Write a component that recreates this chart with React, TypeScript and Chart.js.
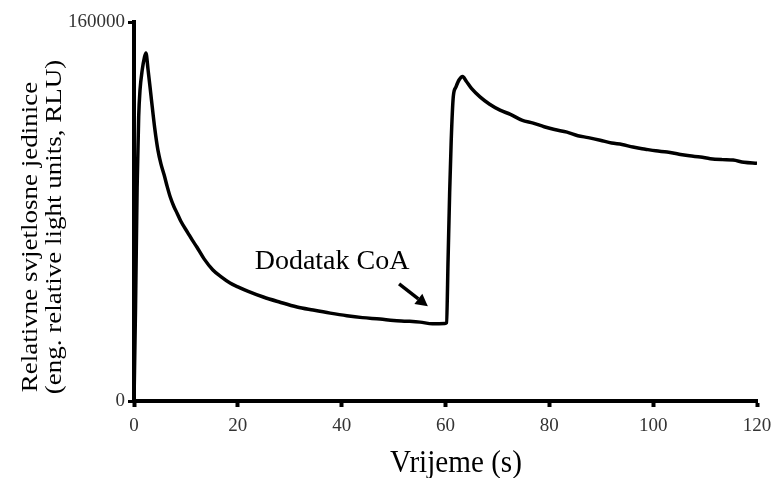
import React, { useEffect, useRef } from "react";
import { Chart, registerables } from "chart.js";

Chart.register(...registerables);

const timeSec: number[] = [
  0, 0.3, 0.6, 0.9, 1.15, 1.6, 2.0, 2.3, 2.7, 3.3, 4.0, 4.6, 5.2, 5.8, 6.4, 7.0, 7.7, 8.3, 9.0,
  10.4, 11.2, 12.1, 13.5, 15.2, 16.8, 18.5, 20, 22, 24.9, 28, 31.4, 34.5, 37.8, 41, 44, 47.4, 50,
  52.5, 55.1, 57.5, 59.9, 60.2, 60.5, 60.8, 61.1, 61.5, 62.0, 62.6, 63.3, 64.0, 65.0, 66.7, 68.5,
  70.5, 72.5, 74.7, 76.9, 79, 81, 83.4, 85.5, 87.5, 89.8, 92, 94, 96.1, 98.5, 100.5, 102.7, 105,
  107, 109.1, 111, 113.3, 115.4, 117.5, 120,
];

const rluValues: number[] = [
  0, 40000, 90000, 120000, 131000, 140000, 145000, 146900, 140000, 128400, 115000, 106000,
  100000, 95500, 90500, 86000, 82000, 79300, 76000, 70900, 68000, 65000, 60000, 55300, 52400,
  49800, 48200, 46300, 43900, 41800, 39700, 38400, 37100, 36000, 35200, 34600, 34000, 33700,
  33300, 32600, 32700, 33000, 60000, 88000, 110000, 128500, 132500, 135500, 137000, 135000,
  132000, 128300, 125300, 122800, 121000, 118600, 117300, 115800, 114600, 113500, 112000, 111200,
  110100, 108900, 108300, 107200, 106300, 105600, 105100, 104200, 103500, 103000, 102300, 101900,
  101700, 100800, 100400,
];

const xTickValues: number[] = [0, 20, 40, 60, 80, 100, 120];
const yTickValues: number[] = [0, 160000];

const xTitle = "Vrijeme (s)";
const yTitleLines: string[] = ["Relativne svjetlosne jedinice", "(eng. relative light units, RLU)"];
const annotationText = "Dodatak CoA";
const annotationTextAt = { x: 38.15, y: 55700 };
const arrowFrom = { x: 51.06, y: 49400 };
const arrowTo = { x: 56.6, y: 40000 };

const FONT = "'Liberation Serif', 'Times New Roman', serif";

const overlayPlugin = {
  id: "overlay",
  afterDraw(chart: any) {
    const ctx = chart.ctx as CanvasRenderingContext2D;
    const xs = chart.scales.x;
    const ys = chart.scales.y;
    ctx.save();
    ctx.fillStyle = "#000";
    ctx.strokeStyle = "#000";
    ctx.textAlign = "center";
    ctx.textBaseline = "alphabetic";

    // y title (two rotated lines)
    ctx.font = `27px ${FONT}`;
    const yLinePos = [
      { bx: 37, cy: 237 },
      { bx: 61, cy: 227 },
    ];
    yTitleLines.forEach((line, i) => {
      ctx.save();
      ctx.translate(yLinePos[i].bx, yLinePos[i].cy);
      ctx.rotate(-Math.PI / 2);
      ctx.scale(1, 0.88);
      ctx.fillText(line, 0, 0);
      ctx.restore();
    });

    // x title
    ctx.save();
    ctx.font = `31px ${FONT}`;
    ctx.translate(456, 472);
    ctx.scale(0.94, 1);
    ctx.fillText(xTitle, 0, 0);
    ctx.restore();

    // annotation text
    ctx.font = `28px ${FONT}`;
    ctx.fillText(
      annotationText,
      xs.getPixelForValue(annotationTextAt.x),
      ys.getPixelForValue(annotationTextAt.y)
    );

    // arrow
    const x1 = xs.getPixelForValue(arrowFrom.x);
    const y1 = ys.getPixelForValue(arrowFrom.y);
    const x2 = xs.getPixelForValue(arrowTo.x);
    const y2 = ys.getPixelForValue(arrowTo.y);
    const ang = Math.atan2(y2 - y1, x2 - x1);
    const headLen = 12;
    const headW = 6.5;
    const bx = x2 - headLen * Math.cos(ang);
    const by = y2 - headLen * Math.sin(ang);
    ctx.lineWidth = 3.5;
    ctx.beginPath();
    ctx.moveTo(x1, y1);
    ctx.lineTo(bx, by);
    ctx.stroke();
    ctx.beginPath();
    ctx.moveTo(x2, y2);
    ctx.lineTo(bx + headW * Math.sin(ang), by - headW * Math.cos(ang));
    ctx.lineTo(bx - headW * Math.sin(ang), by + headW * Math.cos(ang));
    ctx.closePath();
    ctx.fill();
    ctx.restore();
  },
};

export default function App() {
  const canvasRef = useRef<HTMLCanvasElement | null>(null);

  useEffect(() => {
    if (!canvasRef.current) return;
    const data = timeSec.map((t, i) => ({ x: t, y: rluValues[i] }));
    const chart = new Chart(canvasRef.current, {
      type: "line",
      data: {
        datasets: [
          {
            data,
            borderColor: "#000",
            borderWidth: 3.5,
            pointRadius: 0,
            cubicInterpolationMode: "monotone",
            fill: false,
          },
        ],
      },
      options: {
        animation: false,
        responsive: false,
        maintainAspectRatio: false,
        layout: { padding: { top: 22, right: 14, bottom: 0, left: 0 } },
        plugins: { legend: { display: false }, tooltip: { enabled: false } },
        scales: {
          x: {
            type: "linear",
            min: 0,
            max: 120,
            afterBuildTicks: (s: any) => {
              s.ticks = xTickValues.map((v) => ({ value: v }));
            },
            afterFit: (s: any) => {
              s.height = 77;
              s.paddingLeft = 0;
              s.paddingRight = 0;
            },
            border: { display: true, color: "#000", width: 4 },
            grid: { display: true, drawOnChartArea: false, tickLength: 6, tickWidth: 4, tickColor: "#000" },
            ticks: {
              color: "#333",
              font: { family: FONT, size: 19 },
              padding: 8,
              maxRotation: 0,
              callback: (v: any) => String(v),
            },
          },
          y: {
            type: "linear",
            min: 0,
            max: 160000,
            afterBuildTicks: (s: any) => {
              s.ticks = yTickValues.map((v) => ({ value: v }));
            },
            afterFit: (s: any) => {
              s.width = 134;
              s.paddingTop = 0;
              s.paddingBottom = 0;
            },
            border: { display: true, color: "#000", width: 4 },
            grid: { display: true, drawOnChartArea: false, tickLength: 6, tickWidth: 3, tickColor: "#000" },
            ticks: {
              color: "#333",
              font: { family: FONT, size: 19 },
              padding: 3,
              callback: (v: any) => String(v),
            },
          },
        },
      },
      plugins: [overlayPlugin],
    });
    return () => chart.destroy();
  }, []);

  return (
    <div style={{ position: "fixed", left: 0, top: 0, width: 771, height: 478, background: "#fff" }}>
      <canvas ref={canvasRef} width={771} height={478} style={{ width: 771, height: 478 }} />
    </div>
  );
}
